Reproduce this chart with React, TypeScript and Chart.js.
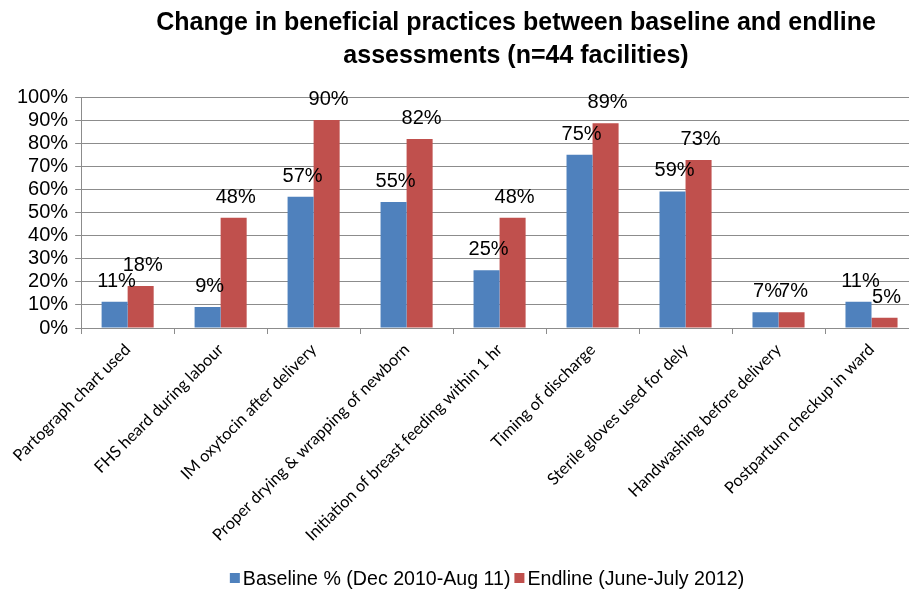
import React, { useEffect, useRef } from "react";
import { Chart, registerables } from "chart.js";
Chart.register(...registerables);

const categories = [
  "Partograph chart used",
  "FHS heard during labour",
  "IM oxytocin after delivery",
  "Proper drying & wrapping of newborn",
  "Initiation of breast feeding within 1 hr",
  "Timing of discharge",
  "Sterile gloves used for dely",
  "Handwashing before delivery",
  "Postpartum checkup in ward",
];
const baseline = [11.4, 9.1, 56.8, 54.5, 25.0, 75.0, 59.1, 6.8, 11.4];
const endline = [18.2, 47.7, 90.0, 81.8, 47.7, 88.6, 72.7, 6.8, 4.5];
const seriesNames = ["Baseline % (Dec 2010-Aug 11)", "Endline (June-July 2012)"];
const titleLines = [
  "Change in beneficial practices between baseline and endline",
  "assessments (n=44 facilities)",
];
const BLUE = "#4F81BD";
const RED = "#C0504D";

const overlayPlugin = {
  id: "overlay",
  afterDatasetsDraw(chart: any) {
    const ctx = chart.ctx;
    ctx.save();
    ctx.font = "20px 'Liberation Sans', Arial, sans-serif";
    ctx.fillStyle = "#000";
    ctx.textAlign = "center";
    ctx.textBaseline = "alphabetic";
    chart.data.datasets.forEach((ds: any, di: number) => {
      const meta = chart.getDatasetMeta(di);
      meta.data.forEach((el: any, i: number) => {
        const v = ds.data[i];
        ctx.fillText(Math.round(v) + "%", el.x + 2, el.y - 15);
      });
    });
    ctx.restore();
  },
  afterDraw(chart: any) {
    const ctx = chart.ctx;
    ctx.save();
    // title
    ctx.font = "bold 25px 'Liberation Sans', Arial, sans-serif";
    ctx.fillStyle = "#000";
    ctx.textAlign = "center";
    ctx.textBaseline = "alphabetic";
    const tx = 516;
    ctx.fillText(titleLines[0], tx, 30);
    ctx.fillText(titleLines[1], tx, 63);
    // legend
    ctx.font = "19.6px 'Liberation Sans', Arial, sans-serif";
    ctx.textAlign = "left";
    const box = 10;
    const gap = 3;
    const itemGap = 4;
    const colors = [BLUE, RED];
    const widths = seriesNames.map((n) => box + gap + ctx.measureText(n).width);
    const total = widths[0] + itemGap + widths[1];
    let x = 487 - total / 2;
    const y = 585;
    seriesNames.forEach((n, i) => {
      ctx.fillStyle = colors[i];
      ctx.fillRect(x, y - 12, box, box);
      ctx.fillStyle = "#000";
      ctx.fillText(n, x + box + gap, y);
      x += widths[i] + itemGap;
    });
    ctx.restore();
  },
};

export default function App() {
  const ref = useRef<HTMLCanvasElement>(null);
  useEffect(() => {
    if (!ref.current) return;
    const chart = new Chart(ref.current, {
      type: "bar",
      data: {
        labels: categories,
        datasets: [
          { label: seriesNames[0], data: baseline, backgroundColor: BLUE, categoryPercentage: 0.56, barPercentage: 1.0 },
          { label: seriesNames[1], data: endline, backgroundColor: RED, categoryPercentage: 0.56, barPercentage: 1.0 },
        ],
      },
      options: {
        responsive: true,
        maintainAspectRatio: false,
        animation: false,
        layout: { padding: { top: 97, right: 12, bottom: 39, left: 10 } },
        plugins: {
          legend: { display: false },
          title: { display: false },
          tooltip: { enabled: false },
        },
        scales: {
          x: {
            grid: { display: true, drawOnChartArea: false, drawTicks: true, tickLength: 6, color: "#8c8c8c", offset: true },
            border: { display: true, color: "#8c8c8c" },
            ticks: {
              autoSkip: false,
              maxRotation: 45,
              minRotation: 45,
              color: "#000",
              padding: 6,
              font: { family: "Lato, 'Open Sans', sans-serif", size: 16.3 },
            },
          },
          y: {
            min: 0,
            max: 100,
            ticks: {
              stepSize: 10,
              autoSkip: false,
              color: "#000",
              padding: 7,
              callback: (v: any) => v + "%",
              font: { family: "'Liberation Sans', Arial, sans-serif", size: 20 },
            },
            grid: { color: "#8c8c8c", tickLength: 6, drawTicks: true },
            border: { display: true, color: "#8c8c8c" },
          },
        },
      },
      plugins: [overlayPlugin],
    });
    return () => chart.destroy();
  }, []);
  return (
    <div style={{ position: "fixed", left: 0, top: 0, width: 909, height: 590, overflow: "hidden", background: "#fff" }}>
      <div style={{ position: "relative", width: 930, height: 590 }}>
        <canvas ref={ref} />
      </div>
    </div>
  );
}
